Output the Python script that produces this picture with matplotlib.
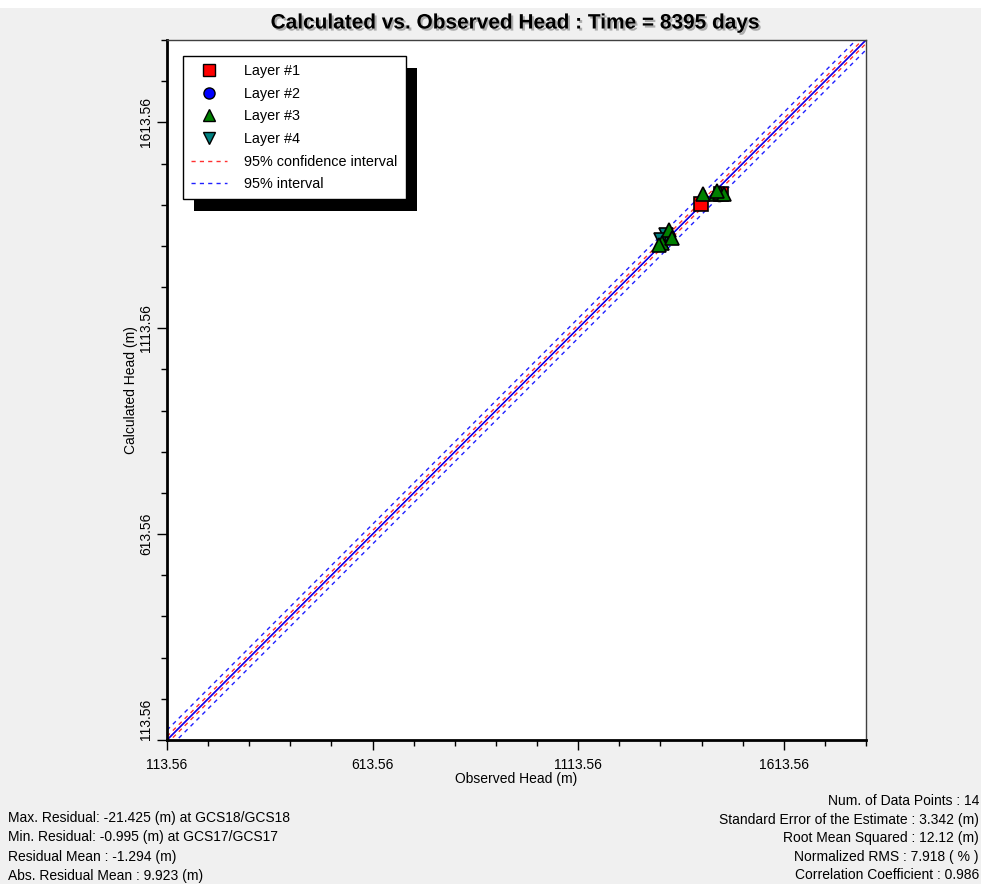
import numpy as np
import matplotlib
matplotlib.use("Agg")
import matplotlib.pyplot as plt
import matplotlib.patheffects as pe
from matplotlib.patches import Rectangle
from matplotlib.lines import Line2D

plt.rcParams['font.family'] = ['Liberation Sans', 'DejaVu Sans']

# observed / calculated heads (m) per layer
layer1_obs = [1411.3, 1462.0]
layer1_calc = [1416.2, 1440.6]
layer2_obs = [1455.0]
layer2_calc = [1440.0]
layer3_obs = [1417.6, 1447.7, 1458.1, 1467.9, 1334.3, 1317.4, 1310.2, 1341.6, 1451.0]
layer3_calc = [1440.4, 1438.7, 1441.9, 1440.4, 1351.3, 1319.8, 1315.0, 1331.9, 1446.0]
layer4_obs = [1326.3, 1315.0]
layer4_calc = [1339.2, 1327.0]

conf_offset = 8.5      # 95% confidence interval half width
pred_offset = 24.0     # 95% interval half width

axis_min, axis_max = 113.56, 1813.56
major_ticks = [113.56, 613.56, 1113.56, 1613.56]
tick_labels = ["113.56", "613.56", "1113.56", "1613.56"]

stats_left = [
    "Max. Residual: -21.425 (m) at GCS18/GCS18",
    "Min. Residual: -0.995 (m) at GCS17/GCS17",
    "Residual Mean : -1.294 (m)",
    "Abs. Residual Mean : 9.923 (m)",
]
stats_right = [
    "Num. of Data Points : 14",
    "Standard Error of the Estimate : 3.342 (m)",
    "Root Mean Squared : 12.12 (m)",
    "Normalized RMS : 7.918 ( % )",
    "Correlation Coefficient : 0.986",
]

BG = '#f0f0f0'

fig = plt.figure(figsize=(9.81, 8.84), dpi=100, facecolor=BG)
# white strip at very top
fig.patches.append(Rectangle((0, 1 - 8 / 884), 1, 8 / 884, transform=fig.transFigure,
                             facecolor='white', edgecolor='none', zorder=0))

ax = fig.add_axes([167 / 981, 1 - 740 / 884, (866 - 167) / 981, (740 - 40) / 884])
ax.set_facecolor('white')
ax.set_xlim(axis_min, axis_max)
ax.set_ylim(axis_min, axis_max)

xs = np.array([axis_min, axis_max])
dash = (0, (3, 3))
ax.plot(xs, xs + conf_offset, color='#ff3030', ls=dash, lw=1)
ax.plot(xs, xs - conf_offset, color='#ff3030', ls=dash, lw=1)
ax.plot(xs, xs + pred_offset, color='#2020ff', ls=dash, lw=1)
ax.plot(xs, xs - pred_offset, color='#2020ff', ls=dash, lw=1)
ax.plot(xs, xs, color='red', lw=0.8)
ax.plot(xs, xs, color='blue', lw=1.1)

mk = dict(ls='none', markersize=10, markeredgecolor='black', markeredgewidth=1.2)
ax.plot(layer2_obs, layer2_calc, marker='o', color='blue', **mk)
ax.plot(layer4_obs, layer4_calc, marker='v', color='#008080', **mk)
ax.plot(layer1_obs, layer1_calc, marker='s', color='red', **mk)
ax.plot(layer3_obs, layer3_calc, marker='^', color='green', **mk)

ax.set_xticks(major_ticks)
ax.set_xticklabels(tick_labels)
ax.set_yticks(major_ticks)
ylabels = ax.set_yticklabels(tick_labels, rotation=90, va='center')
ylabels[0].set_va('bottom')  # lowest label sits above the corner
minor = np.arange(axis_min, axis_max + 1, 100.0)
ax.set_xticks(minor, minor=True)
ax.set_yticks(minor, minor=True)
ax.tick_params(which='major', length=7, width=1, labelsize=10)
ax.tick_params(axis='x', which='major', pad=6)
ax.tick_params(axis='y', which='major', pad=3)
ax.tick_params(which='minor', length=4, width=1)

for side in ['left', 'bottom']:
    ax.spines[side].set_linewidth(2)
    ax.spines[side].set_color('black')
for side in ['top', 'right']:
    ax.spines[side].set_linewidth(1)
    ax.spines[side].set_color('#404040')

ax.set_xlabel("Observed Head (m)", fontsize=10, labelpad=0)
ax.set_ylabel("Calculated Head (m)", fontsize=10, labelpad=1)

title = fig.text(516 / 981, 1 - 23 / 884, "Calculated vs. Observed Head : Time = 8395 days",
                 ha='center', va='center', fontsize=15, fontweight='bold',
                 family=['Liberation Sans Narrow', 'Liberation Sans', 'DejaVu Sans'])
title.set_path_effects([pe.withSimplePatchShadow(offset=(1.5, -1.5), shadow_rgbFace='gray', alpha=0.6)])

handles = [
    Line2D([], [], ls='none', marker='s', color='red', markeredgecolor='black', markersize=8),
    Line2D([], [], ls='none', marker='o', color='blue', markeredgecolor='black', markersize=8),
    Line2D([], [], ls='none', marker='^', color='green', markeredgecolor='black', markersize=8),
    Line2D([], [], ls='none', marker='v', color='#008080', markeredgecolor='black', markersize=8),
    Line2D([], [], color='#ff3030', ls=dash, lw=1),
    Line2D([], [], color='#2020ff', ls=dash, lw=1),
]
labels = ["Layer #1", "Layer #2", "Layer #3", "Layer #4", "95% confidence interval", "95% interval"]
leg = ax.legend(handles, labels, loc='upper left', bbox_to_anchor=((183 - 167) / 699, 1 - (56 - 40) / 700),
                fontsize=10.4, frameon=True, fancybox=False, edgecolor='black', framealpha=1,
                borderaxespad=0, labelspacing=0.6, handlelength=2.5, handletextpad=1.2,
                borderpad=0.55)
leg.get_frame().set_linewidth(1)
leg.set_zorder(10)

fig.canvas.draw()
bb = leg.get_window_extent().transformed(fig.transFigure.inverted())
dx, dy = 11 / 981, 12 / 884
ax.add_artist(Rectangle((bb.x0 + dx, bb.y0 - dy), bb.width, bb.height, transform=fig.transFigure,
                        facecolor='black', edgecolor='none', zorder=9, clip_on=False))

for i, s in enumerate(stats_left):
    fig.text(8 / 981, 1 - (818 + i * 19.3) / 884, s, ha='left', va='center', fontsize=10)
for i, s in enumerate(stats_right):
    fig.text(979 / 981, 1 - (801 + i * 18.6) / 884, s, ha='right', va='center', fontsize=10)

fig.savefig("out.png", dpi=100, facecolor=BG)
